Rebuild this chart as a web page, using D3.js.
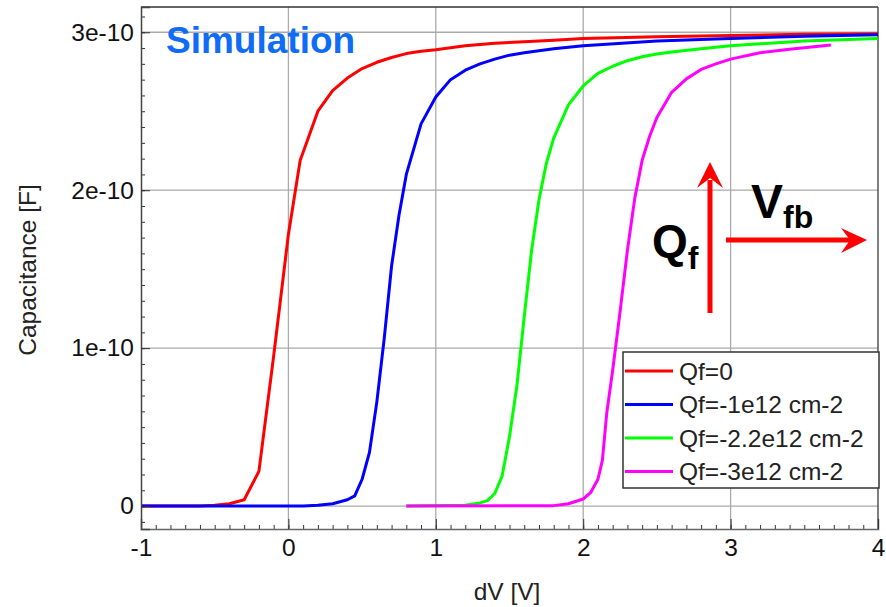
<!DOCTYPE html>
<html>
<head>
<meta charset="utf-8">
<script src="https://cdn.jsdelivr.net/npm/d3@7"></script>
<style>
  body { margin: 0; background: #fff; }
  text { font-family: "Liberation Sans", Arial, sans-serif; }
</style>
</head>
<body>
<div id="chart"></div>
<script>
// C-V curves, capacitance in units of 1e-10 F
var qf0 = [[-1,0],[-0.6,0],[-0.5,0.005],[-0.4,0.015],[-0.3,0.04],[-0.2,0.22],[-0.1,0.95],[0,1.72],[0.08,2.19],[0.1,2.24],
  [0.2,2.5],[0.3,2.63],[0.4,2.71],[0.5,2.77],[0.6,2.81],[0.7,2.84],[0.8,2.865],[0.9,2.88],[1,2.89],[1.2,2.915],
  [1.4,2.93],[1.6,2.94],[1.8,2.95],[2,2.96],[2.5,2.972],[3,2.98],[3.5,2.987],[4,2.99]];
var qf1 = [[-1,0],[0.1,0],[0.2,0.005],[0.3,0.015],[0.4,0.04],[0.45,0.065],[0.5,0.17],[0.55,0.34],[0.6,0.66],[0.65,1.06],
  [0.7,1.52],[0.75,1.84],[0.8,2.1],[0.9,2.42],[1,2.59],[1.1,2.7],[1.2,2.76],[1.3,2.8],[1.4,2.83],[1.5,2.855],
  [1.6,2.87],[1.8,2.895],[2,2.915],[2.5,2.945],[3,2.96],[3.5,2.975],[4,2.985]];
var qf22 = [[0.8,0],[1.2,0.005],[1.3,0.02],[1.35,0.035],[1.4,0.08],[1.45,0.19],[1.5,0.44],[1.55,0.76],[1.6,1.2],[1.65,1.62],
  [1.7,1.94],[1.75,2.17],[1.8,2.33],[1.9,2.54],[2,2.66],[2.1,2.74],[2.2,2.785],[2.3,2.82],[2.4,2.845],[2.5,2.862],
  [2.6,2.875],[2.8,2.895],[3,2.915],[3.5,2.945],[4,2.96]];
var qf3 = [[0.8,0],[1.8,0.003],[1.9,0.015],[2,0.045],[2.05,0.085],[2.1,0.17],[2.13,0.29],[2.16,0.59],[2.2,0.86],[2.25,1.23],
  [2.3,1.62],[2.35,1.95],[2.4,2.19],[2.45,2.34],[2.5,2.46],[2.6,2.62],[2.7,2.705],[2.8,2.765],[2.9,2.8],[3,2.83],
  [3.2,2.87],[3.4,2.893],[3.68,2.92]];

var seriesNames = ['Qf=0', 'Qf=-1e12 cm-2', 'Qf=-2.2e12 cm-2', 'Qf=-3e12 cm-2'];
var seriesColors = ['#ff0000', '#0000ff', '#00ff00', '#ff00ff'];
var series = [qf0, qf1, qf22, qf3];

var xTicks = [-1, 0, 1, 2, 3, 4];
var xTickLabels = ['-1', '0', '1', '2', '3', '4'];
var yTicks = [0, 1e-10, 2e-10, 3e-10];
var yTickLabels = ['0', '1e-10', '2e-10', '3e-10'];

var W = 886, H = 607;
var fs = 24.5;
var svg = d3.select('#chart').append('svg').attr('width', W).attr('height', H);

var x = d3.scaleLinear().domain([-1, 4]).range([141, 878]);
var y = d3.scaleLinear().domain([-0.145e-10, 3.16e-10]).range([529, 7]);

// grid
svg.append('g').selectAll('line').data(xTicks.slice(1, -1)).enter().append('line')
  .attr('x1', function(d) { return x(d); }).attr('x2', function(d) { return x(d); })
  .attr('y1', 7).attr('y2', 529).attr('stroke', '#aaa').attr('stroke-width', 1.3);
svg.append('g').selectAll('line').data(yTicks).enter().append('line')
  .attr('x1', 141).attr('x2', 878)
  .attr('y1', function(d) { return y(d); }).attr('y2', function(d) { return y(d); })
  .attr('stroke', '#aaa').attr('stroke-width', 1.3);

// frame top/right
svg.append('line').attr('x1', 141).attr('x2', 878).attr('y1', 7).attr('y2', 7).attr('stroke', '#333').attr('stroke-width', 1.5);
svg.append('line').attr('x1', 878).attr('x2', 878).attr('y1', 7).attr('y2', 529).attr('stroke', '#555').attr('stroke-width', 1.5);

// curves
var line = d3.line().x(function(d) { return x(d[0]); }).y(function(d) { return y(d[1] * 1e-10); });
svg.append('g').selectAll('path').data(series).enter().append('path')
  .attr('d', line).attr('fill', 'none')
  .attr('stroke', function(d, i) { return seriesColors[i]; })
  .attr('stroke-width', 3).attr('stroke-linejoin', 'round');

// axes
var minorX = d3.range(-10, 41).map(function(d) { return d / 10; });
var minorY = d3.range(-1, 32).map(function(d) { return d * 1e-11; });

svg.append('g').attr('transform', 'translate(0,529)')
  .call(d3.axisBottom(x).tickValues(minorX).tickSize(-4).tickFormat(''))
  .call(function(g) { g.select('.domain').remove(); g.selectAll('line').attr('stroke', '#333'); });
var gx = svg.append('g').attr('transform', 'translate(0,529)')
  .call(d3.axisBottom(x).tickValues(xTicks).tickSize(-10).tickPadding(10)
    .tickFormat(function(d, i) { return xTickLabels[i]; }));
gx.select('.domain').attr('stroke', '#666').attr('stroke-width', 1.5);
gx.selectAll('line').attr('stroke', '#333');
gx.selectAll('text').attr('font-size', fs).attr('fill', '#111')
  .style('font-family', '"Liberation Sans", Arial, sans-serif');

svg.append('g').attr('transform', 'translate(141,0)')
  .call(d3.axisLeft(y).tickValues(minorY).tickSize(-4).tickFormat(''))
  .call(function(g) { g.select('.domain').remove(); g.selectAll('line').attr('stroke', '#333'); });
var gy = svg.append('g').attr('transform', 'translate(141,0)')
  .call(d3.axisLeft(y).tickValues(yTicks).tickSize(-9).tickPadding(7)
    .tickFormat(function(d, i) { return yTickLabels[i]; }));
gy.select('.domain').attr('stroke', '#444').attr('stroke-width', 1.5);
gy.selectAll('line').attr('stroke', '#333');
gy.selectAll('text').attr('font-size', fs).attr('fill', '#111')
  .style('font-family', '"Liberation Sans", Arial, sans-serif');

// axis titles
svg.append('text').attr('x', 507).attr('y', 600).attr('text-anchor', 'middle')
  .attr('font-size', fs).attr('fill', '#222').text('dV [V]');
svg.append('text').attr('transform', 'translate(36,270) rotate(-90)').attr('text-anchor', 'middle')
  .attr('font-size', fs).attr('fill', '#222').text('Capacitance [F]');

// title
svg.append('text').attr('x', 166).attr('y', 53).attr('font-size', 37).attr('font-weight', 'bold')
  .attr('fill', '#0f6cf5').text('Simulation');

// arrows
svg.append('line').attr('x1', 710).attr('x2', 710).attr('y1', 313).attr('y2', 180)
  .attr('stroke', 'red').attr('stroke-width', 5);
svg.append('path').attr('d', 'M710,162 L723,188 L710,178 L697,188 Z').attr('fill', 'red');
svg.append('line').attr('x1', 726).attr('x2', 850).attr('y1', 240).attr('y2', 240)
  .attr('stroke', 'red').attr('stroke-width', 5);
svg.append('path').attr('d', 'M867,240 L841,228 L850,240 L841,253 Z').attr('fill', 'red');

var q = svg.append('text').attr('x', 652).attr('y', 257).attr('font-size', 46).attr('font-weight', 'bold').attr('fill', '#000');
q.append('tspan').text('Q');
q.append('tspan').attr('font-size', 32).attr('dy', 12).text('f');
var v = svg.append('text').attr('x', 751).attr('y', 218).attr('font-size', 48).attr('font-weight', 'bold').attr('fill', '#000');
v.append('tspan').text('V');
v.append('tspan').attr('font-size', 32).attr('dy', 10).text('fb');

// legend
var lg = svg.append('g');
lg.append('rect').attr('x', 623).attr('y', 352).attr('width', 256).attr('height', 136)
  .attr('fill', '#fff').attr('stroke', '#333').attr('stroke-width', 1.5);
var items = lg.selectAll('g.item').data(seriesNames).enter().append('g')
  .attr('transform', function(d, i) { return 'translate(0,' + (371 + i * 33.5) + ')'; });
items.append('line').attr('x1', 625).attr('x2', 673).attr('y1', 0).attr('y2', 0)
  .attr('stroke', function(d, i) { return seriesColors[i]; }).attr('stroke-width', 3);
items.append('text').attr('x', 679).attr('y', 0).attr('dy', '0.35em').attr('font-size', fs).attr('fill', '#222')
  .text(function(d) { return d; });
</script>
</body>
</html>
